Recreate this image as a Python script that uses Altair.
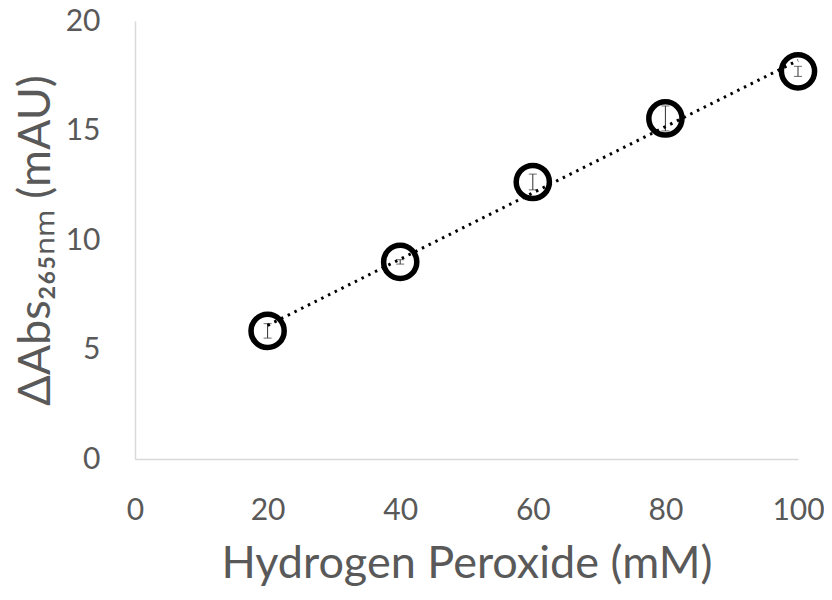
import altair as alt
import pandas as pd

conc = [20, 40, 60, 80, 100]
delta_abs = [5.85, 9.0, 12.65, 15.55, 17.7]
err = [0.33, 0.1, 0.36, 0.57, 0.23]

df = pd.DataFrame({"conc": conc, "abs": delta_abs, "err": err})
df["lo"] = df["abs"] - df["err"]
df["hi"] = df["abs"] + df["err"]

FONT = "Lato"
GREY = "#595959"

xenc = alt.X(
    "conc:Q",
    scale=alt.Scale(domain=[0, 100], nice=False, zero=True),
    axis=alt.Axis(
        values=[0, 20, 40, 60, 80, 100],
        title="Hydrogen Peroxide (mM)",
        labelPadding=36,
        labelFlush=False,
        titlePadding=16,
    ),
)
yenc = alt.Y(
    "abs:Q",
    scale=alt.Scale(domain=[0, 20], nice=False),
    axis=alt.Axis(
        values=[0, 5, 10, 15, 20],
        title="ΔAbs₂₆₅ₙₘ (mAU)",
        labelPadding=35,
        titlePadding=7,
    ),
)

base = alt.Chart(df)

points = base.mark_point(
    shape="circle", size=1100, filled=False, stroke="black", strokeWidth=5.5, opacity=1
).encode(x=xenc, y=yenc)

bars = base.mark_rule(color="#303030", strokeWidth=1).encode(
    x="conc:Q", y="lo:Q", y2="hi:Q"
)
cap_lo = base.mark_tick(color="#303030", thickness=1, size=8, orient="horizontal").encode(
    x="conc:Q", y="lo:Q"
)
cap_hi = base.mark_tick(color="#303030", thickness=1, size=8, orient="horizontal").encode(
    x="conc:Q", y="hi:Q"
)

trend = (
    base.transform_regression("conc", "abs", extent=[20, 100])
    .mark_line(color="black", strokeDash=[2.5, 5], strokeWidth=3)
    .encode(x="conc:Q", y="abs:Q")
)

chart = (
    alt.layer(points, bars, cap_lo, cap_hi, trend)
    .properties(
        width=663,
        height=438,
        autosize=alt.AutoSizeParams(type="none"),
        padding={"left": 127, "top": 13, "right": 26, "bottom": 133},
        background="white",
    )
    .configure_view(stroke=None)
    .configure_axis(
        domainColor="#d9d9d9",
        domainWidth=1.5,
        ticks=False,
        grid=False,
        labelFont=FONT,
        labelFontSize=30,
        labelColor=GREY,
        titleFont=FONT,
        titleFontSize=45,
        titleColor=GREY,
        titleFontWeight="normal",
    )
)

chart.save("out.html", embed_options={"renderer": "svg", "actions": False})
